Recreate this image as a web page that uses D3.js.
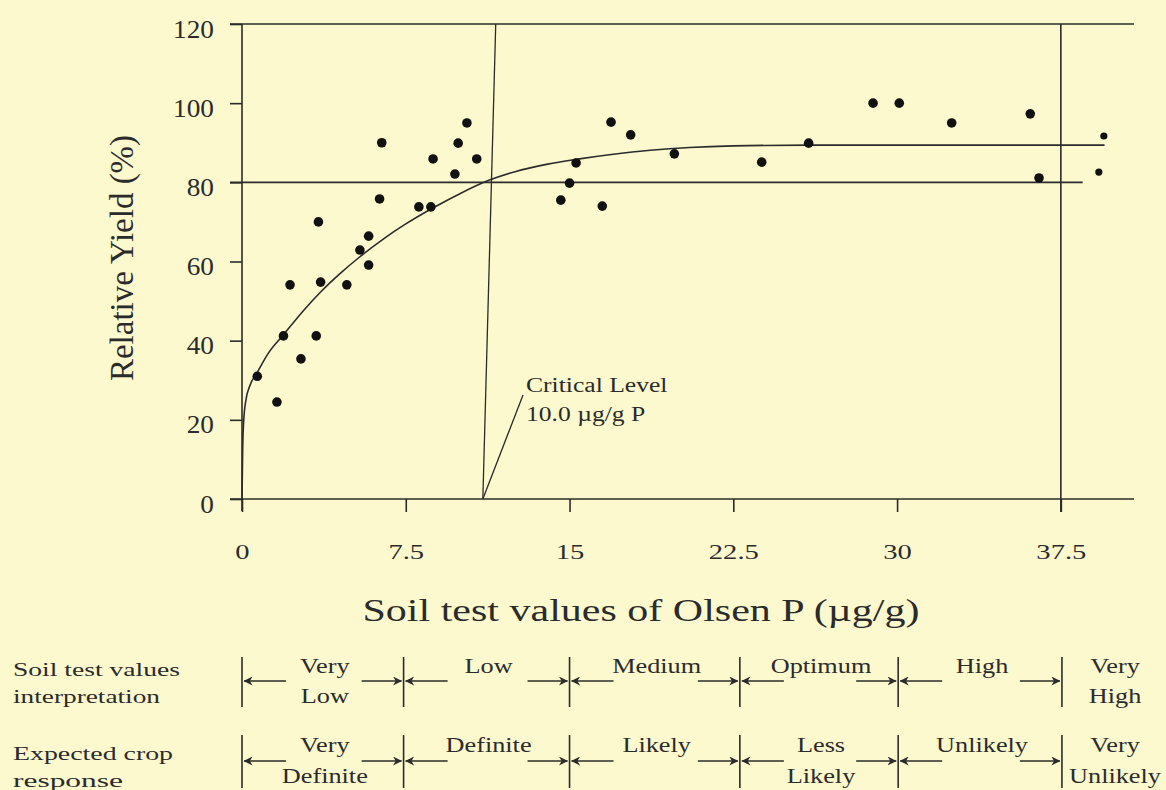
<!DOCTYPE html>
<html>
<head>
<meta charset="utf-8">
<script src="https://cdn.jsdelivr.net/npm/d3@7"></script>
<style>
  html, body { margin: 0; padding: 0; background: #fcf9cf; }
  svg { display: block; }
  text { font-family: "Liberation Serif", "Times New Roman", serif; fill: #2b2b2b; }
</style>
</head>
<body>
<svg id="chart" width="1166" height="790"></svg>
<script>
// ---------- data ----------
const xTicks = [0, 7.5, 15, 22.5, 30, 37.5];
const xTickLabels = ["0", "7.5", "15", "22.5", "30", "37.5"];
const yTicks = [0, 20, 40, 60, 80, 100, 120];

// observed points (Olsen P, relative yield %)
const obsX = [0.7, 1.6, 1.9, 2.2, 2.7, 3.4, 3.5, 3.6, 4.8, 5.4, 5.8, 5.8, 6.3, 6.4,
              8.1, 8.65, 8.75, 9.75, 9.9, 10.3, 10.75,
              14.6, 15.0, 15.3, 16.5, 16.9, 17.8, 19.8, 23.8, 25.95, 28.9, 30.1, 32.5, 36.1, 36.5];
const obsY = [31, 24.5, 41.2, 54.1, 35.4, 41.2, 70, 54.8, 54.1, 62.9, 66.4, 59.1, 75.8, 90,
              73.8, 73.8, 85.9, 82.1, 89.9, 95, 85.9,
              75.5, 79.8, 84.9, 74, 95.2, 92, 87.2, 85.1, 89.9, 100, 100, 95, 97.3, 81.1];
// two small points beyond the 37.5 line
const smallX = [39.47, 39.24];
const smallY = [91.7, 82.6];

// fitted response curve
const fitX = [0, 0.03, 0.08, 0.18, 0.35, 0.7, 1.2, 1.9, 2.8, 3.6, 4.5, 5.4, 6.5, 7.5, 8.7, 10, 11.3, 12.5, 14, 15.3, 17, 18.7, 20.5, 22.5, 26, 39.5];
const fitY = [0, 12, 20, 25, 28.5, 32, 36.8, 41.5, 47.5, 52.3, 57, 61.2, 65.8, 69.5, 73.4, 77.2, 80.5, 82.7, 84.6, 85.8, 87.1, 88.1, 88.8, 89.2, 89.4, 89.4];

// critical level line (slightly slanted in the original) and horizontal guides
const critTop = [11.62, 120];
const critBottom = [11.03, 0];
const leaderEnd = [12.87, 26.3];
const critLabel = ["Critical Level", "10.0 \u00b5g/g P"];
const yield80 = 80;
const line80End = 38.5;
const rightLineX = 37.5;
const xAxisEnd = 40.85;

// interpretation classes
const classBounds = [0, 7.4, 15, 22.8, 30.05, 37.55];
const row1Labels = [["Very", "Low"], ["Low"], ["Medium"], ["Optimum"], ["High"], ["Very", "High"]];
const row2Labels = [["Very", "Definite"], ["Definite"], ["Likely"], ["Less", "Likely"], ["Unlikely"], ["Very", "Unlikely"]];
const rowTitles = [["Soil test values", "interpretation"], ["Expected crop", "response"]];

// ---------- drawing ----------
const svg = d3.select("#chart");
const ink = "#2b2b2b";
const x = d3.scaleLinear().domain([0, xAxisEnd]).range([242, 1134]);
const y = d3.scaleLinear().domain([0, 120]).range([499, 24]);

function stretch(sel, k) {
  sel.each(function () {
    const w = this.getComputedTextLength();
    this.setAttribute("textLength", w * k);
    this.setAttribute("lengthAdjust", "spacingAndGlyphs");
  });
}

// y axis
const yAxis = svg.append("g").attr("transform", `translate(${x(0)},0)`)
  .call(d3.axisLeft(y).tickValues(yTicks).tickSize(12).tickPadding(16).tickFormat(d3.format("d")));
yAxis.select(".domain").remove();
yAxis.selectAll(".tick line").attr("stroke", ink).attr("stroke-width", 1.6);
yAxis.selectAll(".tick text").attr("fill", ink).attr("font-size", 26)
  .attr("font-family", "Liberation Serif").attr("dy", "0.5em");
stretch(yAxis.selectAll(".tick text"), 1.05);
svg.append("line").attr("x1", x(0)).attr("x2", x(0)).attr("y1", y(120)).attr("y2", y(0) + 12)
  .attr("stroke", ink).attr("stroke-width", 1.6);

// x axis
const xAxis = svg.append("g").attr("transform", `translate(0,${y(0)})`)
  .call(d3.axisBottom(x).tickValues(xTicks).tickSize(13).tickPadding(31)
    .tickFormat((d, i) => xTickLabels[i]));
xAxis.select(".domain").remove();
xAxis.selectAll(".tick line").attr("stroke", ink).attr("stroke-width", 1.6);
xAxis.selectAll(".tick text").attr("fill", ink).attr("font-size", 22)
  .attr("font-family", "Liberation Serif");
stretch(xAxis.selectAll(".tick text"), 1.3);
svg.append("line").attr("x1", x(0) - 12).attr("x2", x(xAxisEnd)).attr("y1", y(0)).attr("y2", y(0))
  .attr("stroke", ink).attr("stroke-width", 1.6);
// top frame line
svg.append("line").attr("x1", x(0) - 12).attr("x2", x(xAxisEnd)).attr("y1", y(120)).attr("y2", y(120))
  .attr("stroke", ink).attr("stroke-width", 1.6);
// right vertical line at 37.5
svg.append("line").attr("x1", x(rightLineX)).attr("x2", x(rightLineX)).attr("y1", y(120)).attr("y2", y(0) + 13)
  .attr("stroke", ink).attr("stroke-width", 1.6);
// 80% line
svg.append("line").attr("x1", x(0) - 12).attr("x2", x(line80End)).attr("y1", y(yield80)).attr("y2", y(yield80))
  .attr("stroke", ink).attr("stroke-width", 1.6);

// critical level line
svg.append("line").attr("x1", x(critTop[0])).attr("y1", y(critTop[1]))
  .attr("x2", x(critBottom[0])).attr("y2", y(critBottom[1]))
  .attr("stroke", ink).attr("stroke-width", 1.3);
svg.append("line").attr("x1", x(critBottom[0])).attr("y1", y(critBottom[1]))
  .attr("x2", x(leaderEnd[0])).attr("y2", y(leaderEnd[1]))
  .attr("stroke", ink).attr("stroke-width", 1.3);
svg.append("text").attr("x", 526).attr("y", 392).attr("font-size", 20).text(critLabel[0])
  .call(s => stretch(s, 1.28));
svg.append("text").attr("x", 526).attr("y", 421).attr("font-size", 20).text(critLabel[1])
  .call(s => stretch(s, 1.28));

// fitted curve
const fit = fitX.map((v, i) => [v, fitY[i]]);
svg.append("path").datum(fit)
  .attr("d", d3.line().x(d => x(d[0])).y(d => y(d[1])).curve(d3.curveMonotoneX))
  .attr("fill", "none").attr("stroke", ink).attr("stroke-width", 1.6);

// points
svg.append("g").selectAll("circle").data(obsX.map((v, i) => [v, obsY[i]])).join("circle")
  .attr("cx", d => x(d[0])).attr("cy", d => y(d[1])).attr("r", 4.8).attr("fill", "#111");
svg.append("g").selectAll("circle").data(smallX.map((v, i) => [v, smallY[i]])).join("circle")
  .attr("cx", d => x(d[0])).attr("cy", d => y(d[1])).attr("r", 3.6).attr("fill", "#111");

// axis titles
svg.append("text").attr("x", 641).attr("y", 621).attr("text-anchor", "middle").attr("font-size", 31)
  .attr("textLength", 557).attr("lengthAdjust", "spacingAndGlyphs")
  .text("Soil test values of Olsen P (\u00b5g/g)");
svg.append("text").attr("transform", "translate(133,258) rotate(-90)").attr("text-anchor", "middle")
  .attr("font-size", 33).text("Relative Yield (%)");

// ---------- interpretation rows ----------
const defs = svg.append("defs");
defs.append("marker").attr("id", "ah").attr("viewBox", "0 0 10 10").attr("refX", 9.5).attr("refY", 5)
  .attr("markerWidth", 9).attr("markerHeight", 9).attr("markerUnits", "userSpaceOnUse").attr("orient", "auto")
  .append("path").attr("d", "M0,0 L10,5 L0,10 L3,5 Z").attr("fill", ink);

const rows = [
  { labels: row1Labels, barTop: 657, barBot: 707, arrowY: 681, base1: 673, base2: 703, title: rowTitles[0], t1: 676, t2: 703 },
  { labels: row2Labels, barTop: 735, barBot: 788, arrowY: 761, base1: 752, base2: 783, title: rowTitles[1], t1: 760, t2: 787 }
];
const titleLens = [[167, 147], [160, 110]];
rows.forEach((r, ri) => {
  const g = svg.append("g");
  // row title
  r.title.forEach((t, j) => {
    g.append("text").attr("x", 13).attr("y", j === 0 ? r.t1 : r.t2).attr("font-size", 19)
      .attr("textLength", titleLens[ri][j]).attr("lengthAdjust", "spacingAndGlyphs").text(t);
  });
  // bars
  classBounds.forEach(b => {
    g.append("line").attr("x1", x(b)).attr("x2", x(b)).attr("y1", r.barTop).attr("y2", r.barBot)
      .attr("stroke", ink).attr("stroke-width", 1.6);
  });
  // arrows and labels
  r.labels.forEach((lab, i) => {
    let cx;
    if (i < classBounds.length - 1) {
      const a = x(classBounds[i]), b = x(classBounds[i + 1]);
      cx = (a + b) / 2 + 2;
      g.append("line").attr("x1", a + 44).attr("x2", a + 2).attr("y1", r.arrowY).attr("y2", r.arrowY)
        .attr("stroke", ink).attr("stroke-width", 1.6).attr("marker-end", "url(#ah)");
      g.append("line").attr("x1", b - 42).attr("x2", b - 2).attr("y1", r.arrowY).attr("y2", r.arrowY)
        .attr("stroke", ink).attr("stroke-width", 1.6).attr("marker-end", "url(#ah)");
    } else {
      cx = 1115;
    }
    lab.forEach((t, j) => {
      g.append("text").attr("x", cx).attr("y", j === 0 ? r.base1 : r.base2).attr("text-anchor", "middle")
        .attr("font-size", 21).text(t).call(s => stretch(s, 1.25));
    });
  });
});
</script>
</body>
</html>
